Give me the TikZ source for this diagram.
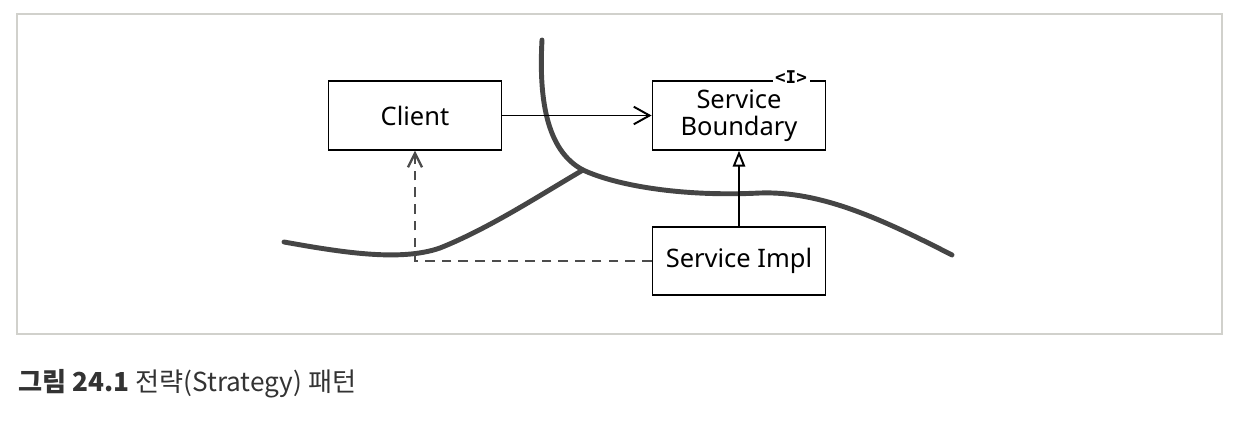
\documentclass[tikz,border=0pt]{standalone}
\usepackage{fontspec}
\setmainfont{Noto Sans}
\newfontfamily\krfont{Noto Sans CJK KR}
\newfontfamily\tagfont{DejaVu Sans Mono}
\usepackage{tikz}
\usetikzlibrary{arrows.meta}
\definecolor{frame}{rgb}{0.82,0.82,0.80}
\definecolor{river}{rgb}{0.27,0.27,0.27}

\begin{document}
\begin{tikzpicture}[x=0.02cm,y=-0.02cm,
  box/.style={draw, line width=1.1pt, minimum width=3.46cm, minimum height=1.37cm,
    align=center, font=\fontsize{14.5}{15}\selectfont},
  line/.style={line width=1.1pt},
  border/.style={line width=2.8pt, river, line cap=round}]
\useasboundingbox (0,0) rectangle (1242,422);
\draw [frame, line width=0.6pt] (17,14) rectangle (1222,334);
% boundary lines
\draw [border] (542,40) .. controls (539,95) and (545,150) .. (583,170)
  .. controls (615,185) and (680,197) .. (760,193)
  .. controls (820,191) and (880,218) .. (952,255);
\draw [border] (284,242) .. controls (340,252) and (400,262) .. (440,248)
  .. controls (490,228) and (540,195) .. (583,170);
% classes
\node [box] (client) at (415,115.5) {Client};
\node [box] (bound) at (739,115.5) {Service\\Boundary};
\node [box] (impl) at (739,261) {Service Impl};
\node [fill=white, inner sep=1.5pt, font=\tagfont\bfseries\fontsize{10}{10}\selectfont] (tag) at (791,77) {<I>};
% relations
\draw [line, -{Straight Barb[length=9pt,width=10pt]}] (client) -- (bound);
\draw [line, -{Triangle[open,length=9pt,width=7pt]}] (impl) -- (bound);
\draw [line, line width=1.3pt, black!70, dash pattern=on 5.5pt off 4pt, -{Straight Barb[length=8pt,width=8pt]}] (impl.west) -| (client.south);
\node [anchor=west, text=black!80, font=\krfont\fontsize{14.9}{15}\selectfont] (cap) at (12,384) {\textbf{그림 24.1} 전략(Strategy) 패턴};
\end{tikzpicture}
\end{document}
